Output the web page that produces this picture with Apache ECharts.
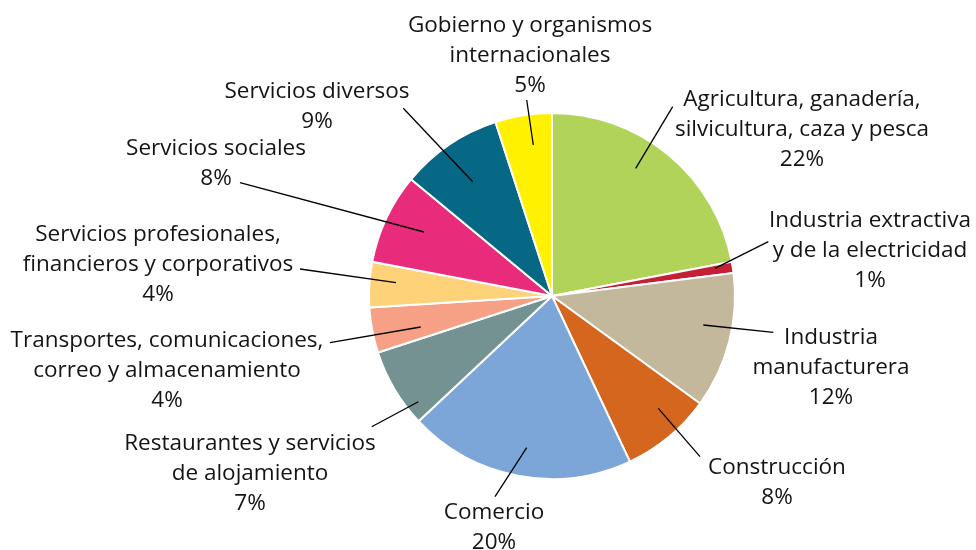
<!DOCTYPE html>
<html>
<head>
<meta charset="utf-8">
<script src="https://cdn.jsdelivr.net/npm/echarts@6/dist/echarts.min.js"></script>
<style>
html,body{margin:0;padding:0;background:#fff;}
#chart{width:976px;height:550px;}
</style>
</head>
<body>
<div id="chart"></div>
<script>
// Data
var categories = [
  'Agricultura, ganadería,\nsilvicultura, caza y pesca',
  'Industria extractiva\ny de la electricidad',
  'Industria\nmanufacturera',
  'Construcción',
  'Comercio',
  'Restaurantes y servicios\nde alojamiento',
  'Transportes, comunicaciones,\ncorreo y almacenamiento',
  'Servicios profesionales,\nfinancieros y corporativos',
  'Servicios sociales',
  'Servicios diversos',
  'Gobierno y organismos\ninternacionales'
];
var values = [22, 1, 12, 8, 20, 7, 4, 4, 8, 9, 5];

// Styles
var colors = ['#b2d35a', '#c41f34', '#c3b79c', '#d5661e', '#7da6d8', '#749291', '#f6a086', '#fdd279', '#e82c7b', '#066884', '#fff100'];

// Label layout: text block centre and leader line (outer end -> inner end)
var labelCenters = [
  [802, 130], [870, 251], [831, 368], [777, 483], [494, 528],
  [250, 474], [167, 371], [158, 265], [216, 164], [317, 107], [530, 56]
];
var leaderLines = [
  [[672.7, 106.7], [635.7, 168.3]],
  [[768.3, 241.7], [715, 268.3]],
  [[773.3, 332.3], [703.3, 325]],
  [[700, 456.7], [658.3, 408.3]],
  [[495, 496.7], [526.7, 447.7]],
  [[371.7, 426.7], [418.3, 401.7]],
  [[330, 342.7], [420.7, 327]],
  [[300, 269], [396, 282.7]],
  [[240, 182.7], [424, 232]],
  [[403.3, 108.3], [472.7, 181.7]],
  [[526.7, 100], [533.3, 145]]
];

var chart = echarts.init(document.getElementById('chart'), null, {renderer: 'canvas'});
var sliceData = categories.map(function (c, i) {
  return {name: c, value: values[i], itemStyle: {color: colors[i]}};
});
var labelData = categories.map(function (c, i) {
  return {name: c, value: values[i]};
});
var common = {
  type: 'pie',
  center: [552, 296],
  radius: 183,
  startAngle: 90,
  clockwise: true,
  avoidLabelOverlap: false,
  silent: true,
  emphasis: {disabled: true}
};
chart.setOption({
  animation: false,
  backgroundColor: '#ffffff',
  series: [
    Object.assign({}, common, {
      z: 2,
      data: sliceData,
      itemStyle: {borderColor: '#ffffff', borderWidth: 2},
      label: {show: false},
      labelLine: {show: false}
    }),
    Object.assign({}, common, {
      z: 5,
      data: labelData,
      itemStyle: {color: 'rgba(0,0,0,0)', borderWidth: 0},
      label: {
        show: true,
        position: 'outside',
        formatter: function (p) { return p.name + '\n' + p.value + '%'; },
        fontFamily: 'Open Sans',
        fontSize: 22.5,
        lineHeight: 30,
        color: '#141414',
        align: 'center'
      },
      labelLine: {show: true, lineStyle: {color: '#000000', width: 1.3}},
      labelLayout: function (params) {
        var i = params.dataIndex;
        var l = leaderLines[i];
        return {
          x: labelCenters[i][0],
          y: labelCenters[i][1],
          align: 'center',
          verticalAlign: 'middle',
          labelLinePoints: [l[0], l[1], l[1]]
        };
      }
    })
  ]
});
</script>
</body>
</html>
